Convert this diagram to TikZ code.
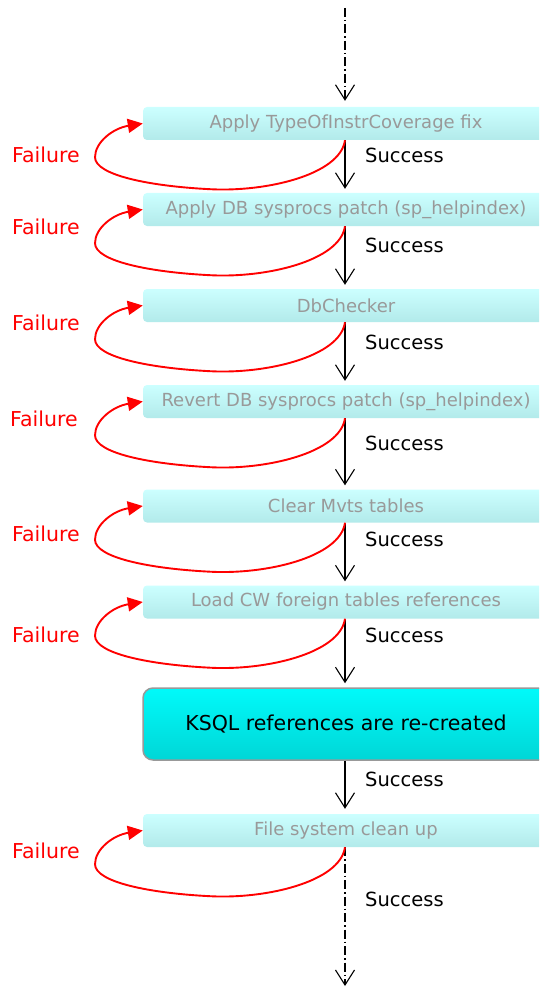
\documentclass[tikz,border=0pt]{standalone}
\usepackage{fontspec}
\setmainfont{DejaVu Sans}
\usetikzlibrary{arrows.meta,positioning,calc}
\definecolor{boxtop}{HTML}{CCFFFF}
\definecolor{boxbot}{HTML}{B2EAEA}
\definecolor{boxtext}{HTML}{999999}
\definecolor{ktop}{HTML}{00FAFA}
\definecolor{kbot}{HTML}{00D6D6}
\definecolor{kborder}{HTML}{999999}
\tikzset{
  stepbox/.style={rectangle, rounded corners=4pt, minimum width=406pt, minimum height=33pt,
    top color=boxtop, bottom color=boxbot, draw=none, text=boxtext,
    font=\fontsize{18}{20}\selectfont, inner sep=0pt},
  keybox/.style={rectangle, rounded corners=10pt, minimum width=406pt, minimum height=72pt,
    top color=ktop, bottom color=kbot, draw=kborder, line width=1.5pt, text=black,
    font=\fontsize{20.5}{22}\selectfont, inner sep=0pt},
  okarrow/.style={draw=black, line width=1.1pt, -{Straight Barb[length=15pt,width=19pt,line width=1.1pt]}},
  dotarrow/.style={okarrow, dash pattern=on 9pt off 3pt on 1.5pt off 3pt},
  failarrow/.style={draw=red, line width=1.9pt, -{Triangle[length=15pt,width=14pt]}},
  oklabel/.style={anchor=west, font=\fontsize{19.5}{22}\selectfont, text=black, inner sep=0pt},
  faillabel/.style={anchor=west, font=\fontsize{20.5}{22}\selectfont, text=red, inner sep=0pt},
}
\begin{document}
\begin{tikzpicture}[x=1pt,y=1pt]
\useasboundingbox (0,0) rectangle (539,-987);
\clip (0,0) rectangle (539,-987);

\node[stepbox] (b1) at (346,-123.5) {Apply TypeOfInstrCoverage fix};
\node[stepbox] (b2) at (346,-209.5) {Apply DB sysprocs patch (sp\_helpindex)};
\node[stepbox] (b3) at (346,-305.5) {DbChecker};
\node[stepbox] (b4) at (346,-401.5) {Revert DB sysprocs patch (sp\_helpindex)};
\node[stepbox] (b5) at (346,-506) {Clear Mvts tables};
\node[stepbox] (b6) at (346,-602) {Load CW foreign tables references};
\node[keybox] (k) at (346,-724) {KSQL references are re-created};
\node[stepbox] (b8) at (346,-830.5) {File system clean up};

\coordinate (top) at (345,-8);
\coordinate (bot) at (345,-987);

\draw[dotarrow, shorten >=6pt] (top) -- (b1.north -| top);
\draw[okarrow, shorten >=4pt] (b1.south -| top) -- (b2.north -| top);
\draw[okarrow, shorten >=4pt] (b2.south -| top) -- (b3.north -| top);
\draw[okarrow, shorten >=4pt] (b3.south -| top) -- (b4.north -| top);
\draw[okarrow, shorten >=4pt] (b4.south -| top) -- (b5.north -| top);
\draw[okarrow, shorten >=4pt] (b5.south -| top) -- (b6.north -| top);
\draw[okarrow, shorten >=4pt] (b6.south -| top) -- (k.north -| top);
\draw[okarrow, shorten >=5pt] (k.south -| top) -- (b8.north -| top);
\draw[dotarrow, shorten >=1pt] (b8.south -| top) -- (bot);

\node[oklabel] (s1) at (365,-155) {Success};
\node[oklabel] (s2) at (365,-245) {Success};
\node[oklabel] (s3) at (365,-342) {Success};
\node[oklabel] (s4) at (365,-443) {Success};
\node[oklabel] (s5) at (365,-539) {Success};
\node[oklabel] (s6) at (365,-635) {Success};
\node[oklabel] (s7) at (365,-779) {Success};
\node[oklabel] (s8) at (365,-899) {Success};

\node[faillabel] (f1) at (12,-155) {Failure};
\node[faillabel] (f2) at (12,-227) {Failure};
\node[faillabel] (f3) at (12,-323) {Failure};
\node[faillabel] (f4) at (10,-419) {Failure};
\node[faillabel] (f5) at (12,-534) {Failure};
\node[faillabel] (f6) at (12,-635) {Failure};
\node[faillabel] (f8) at (12,-851) {Failure};

\foreach \b in {b1,b2,b3,b4,b5,b6,b8}{
  \draw[failarrow] (\b.south -| top)
    .. controls ($(\b.south -| top)+(-5,-35)$) and ($(\b.south -| top)+(-80,-52)$) .. ($(\b.south -| top)+(-135,-49)$)
    .. controls ($(\b.south -| top)+(-195,-46)$) and ($(\b.south -| top)+(-250,-35)$) .. ($(\b.south -| top)+(-250,-17)$)
    .. controls ($(\b.south -| top)+(-250,-2)$) and ($(\b.south -| top)+(-232,12)$) .. (\b.west);
}
\end{tikzpicture}
\end{document}
